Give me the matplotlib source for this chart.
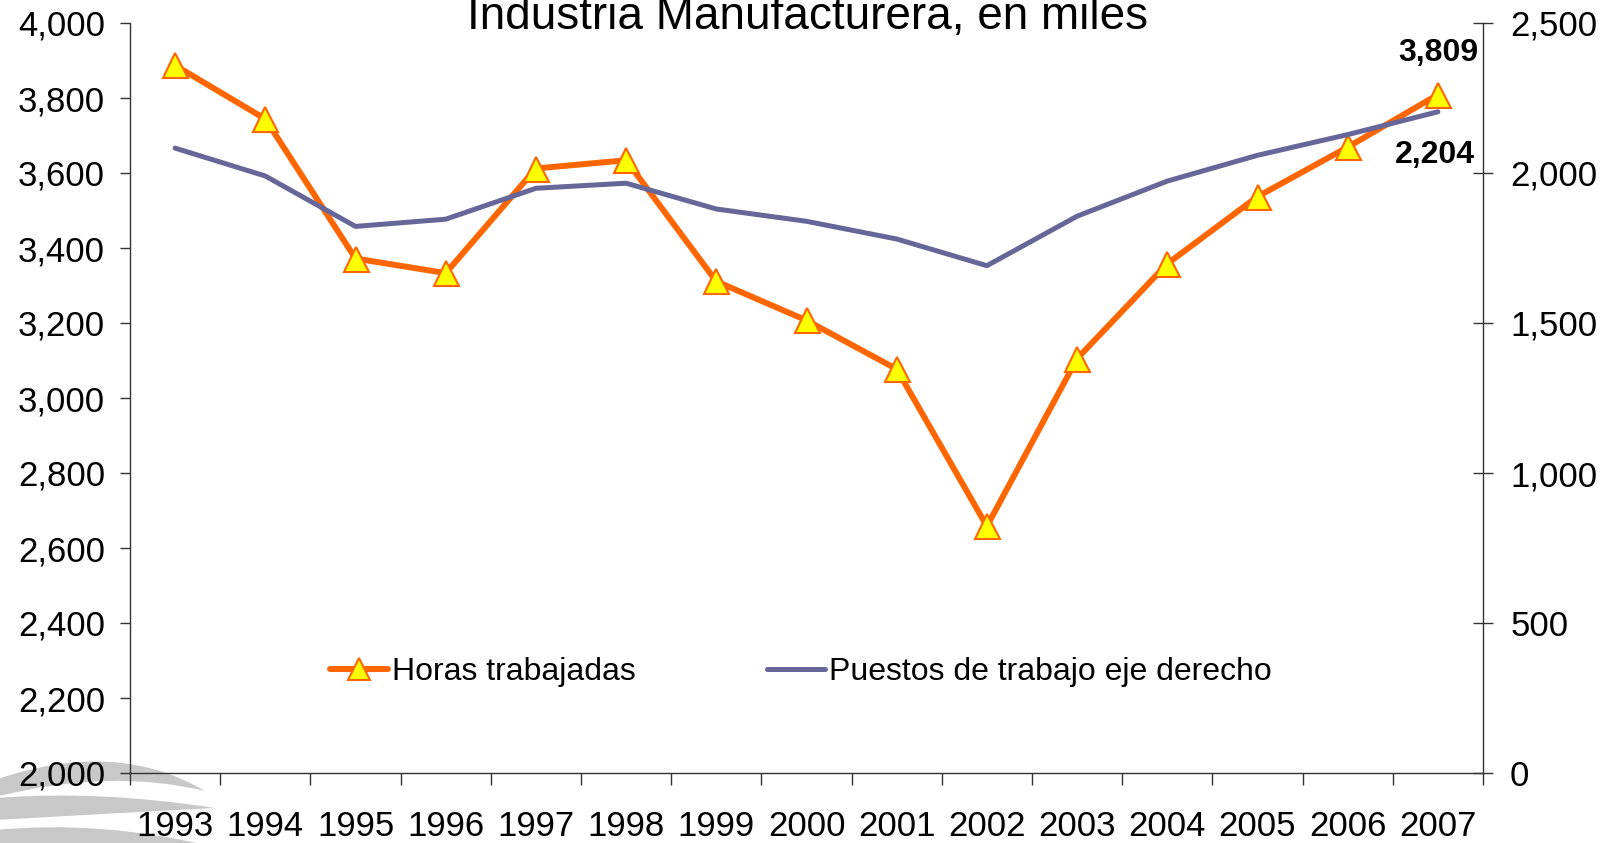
import numpy as np
import matplotlib
matplotlib.use("Agg")
import matplotlib.pyplot as plt
from matplotlib.path import Path
from matplotlib.patches import PathPatch
from matplotlib.ticker import FuncFormatter, FixedLocator

plt.rcParams['font.family'] = ['Liberation Sans', 'DejaVu Sans']

# datos (miles)
years = ['1993', '1994', '1995', '1996', '1997', '1998', '1999', '2000',
         '2001', '2002', '2003', '2004', '2005', '2006', '2007']
horas = [3887, 3744, 3372, 3333, 3612, 3634, 3311, 3207, 3077, 2658,
         3105, 3358, 3537, 3669, 3809]
puestos = [2083, 1990, 1822, 1846, 1949, 1966, 1880, 1839, 1780, 1691,
           1856, 1973, 2059, 2128, 2204]
left_ticks = list(range(2000, 4001, 200))
right_ticks = list(range(0, 2501, 500))
title = "Industria Manufacturera, en miles"
label_horas = "Horas trabajadas"
label_puestos = "Puestos de trabajo eje derecho"

W, H = 1619, 843
fig = plt.figure(figsize=(W / 100, H / 100), dpi=100)
fig.patch.set_facecolor('white')


def px(x, y):
    # pixel (y hacia abajo) -> fraccion de figura
    return (x / W, 1 - y / H)


def band(p0, cu, tip, cl, p1):
    verts = [px(*p0), px(*cu), px(*tip), px(*cl), px(*p1), px(*p0)]
    codes = [Path.MOVETO, Path.CURVE3, Path.CURVE3, Path.CURVE3, Path.CURVE3, Path.LINETO]
    return PathPatch(Path(verts, codes), transform=fig.transFigure,
                     facecolor='#c8c8c8', edgecolor='none', zorder=-1)


# marca de agua gris abajo a la izquierda
fig.patches.append(band((-5, 780), (115, 738), (205, 791), (110, 768), (-5, 797)))
fig.patches.append(band((-5, 798), (100, 790), (215, 808), (100, 814), (-5, 820)))
fig.patches.append(band((-5, 830), (100, 820), (210, 846), (100, 850), (-5, 850)))

ax = fig.add_axes([130 / W, 1 - 773 / H, (1483 - 130) / W, (773 - 23) / H])
ax.patch.set_alpha(0)
ax2 = ax.twinx()

x = np.arange(len(years))
ax.plot(x, horas, color='#FF6600', lw=4.3, marker='^', markersize=18,
        markerfacecolor='#FFFF00', markeredgecolor='#FF6600', markeredgewidth=1.5,
        solid_capstyle='round', label=label_horas, zorder=3)
ax2.plot(x, puestos, color='#666699', lw=3.6, solid_capstyle='round',
         label=label_puestos, zorder=3)

ax.set_xlim(-0.5, len(years) - 0.5)
ax.set_ylim(2000, 4000)
ax2.set_ylim(0, 2500)

fmt = FuncFormatter(lambda v, p: '{:,.0f}'.format(v))
ax.yaxis.set_major_locator(FixedLocator(left_ticks))
ax.yaxis.set_major_formatter(fmt)
ax2.yaxis.set_major_locator(FixedLocator(right_ticks))
ax2.yaxis.set_major_formatter(fmt)

ax.set_xticks(x)
ax.set_xticklabels(years)
ax.set_xticks(np.arange(-0.5, len(years)), minor=True)

spine_c = '#333333'
for a in (ax, ax2):
    for s in a.spines.values():
        s.set_color(spine_c)
        s.set_linewidth(1.0)
    a.spines['top'].set_visible(False)
ax.spines['right'].set_visible(False)
ax2.spines['left'].set_visible(False)
ax2.spines['bottom'].set_visible(False)

ax.tick_params(axis='x', which='major', length=0, pad=27, labelsize=25)
ax.tick_params(axis='x', which='minor', direction='out', length=8.5, width=1, color=spine_c)
ax.tick_params(axis='y', direction='out', length=7, width=1, color=spine_c, pad=11, labelsize=25)
ax2.tick_params(axis='y', direction='inout', length=15, width=1, color=spine_c, pad=12, labelsize=25)

ax.annotate('3,809', xy=(x[-1], horas[-1]), xytext=(0, 30), textcoords='offset points',
            ha='center', va='center', fontsize=23, fontweight='bold')
ax2.annotate('2,204', xy=(x[-1], puestos[-1]), xytext=(-2, -31), textcoords='offset points',
             ha='center', va='center', fontsize=23, fontweight='bold')

h1, l1 = ax.get_legend_handles_labels()
h2, l2 = ax2.get_legend_handles_labels()
fig.legend(h1 + h2, l1 + l2, loc='center left', bbox_to_anchor=px(330, 672),
           ncol=2, frameon=False, fontsize=23, handlelength=1.8, handletextpad=0.15,
           columnspacing=4.1, borderpad=0, borderaxespad=0, markerscale=0.85)

fig.text(807 / W, 1 - 29 / H, title, ha='center', va='baseline', fontsize=33)

fig.savefig('out.png', dpi=100, facecolor='white')
